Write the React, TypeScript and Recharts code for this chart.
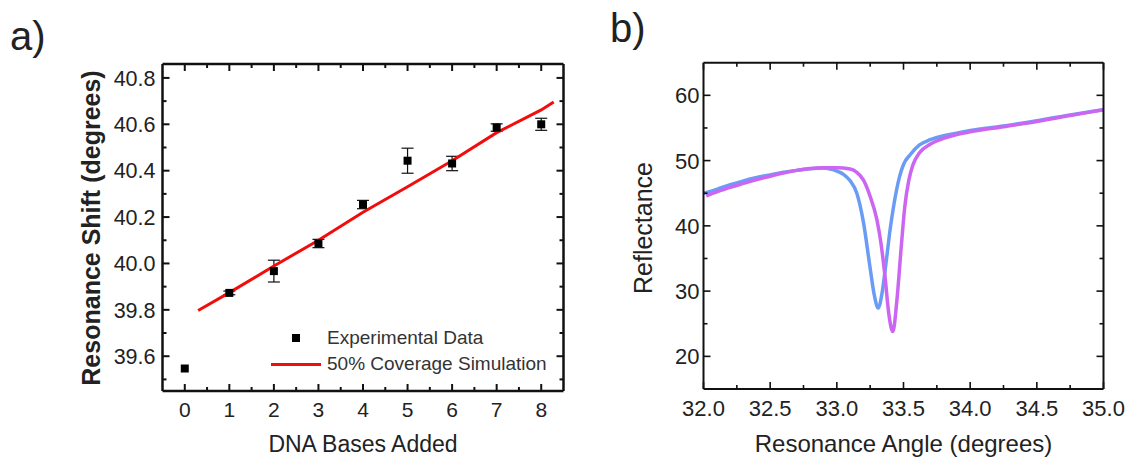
import React from "react";
import { ComposedChart, Line, Scatter, XAxis, YAxis, ErrorBar, Legend } from "recharts";

const FONT = '"Liberation Sans", Arial, sans-serif';

// panel a: resonance shift vs DNA bases
const basesAdded = [0, 1, 2, 3, 4, 5, 6, 7, 8];
const shiftMeasured = [39.547, 39.873, 39.967, 40.086, 40.254, 40.443, 40.431, 40.586, 40.6];
const shiftError = [0, 0.008, 0.047, 0.018, 0.018, 0.054, 0.031, 0.016, 0.026];
const simBases = [0.3, 1, 2, 3, 4, 5, 6, 7, 8, 8.28];
const simShift = [39.797, 39.874, 39.989, 40.1, 40.221, 40.331, 40.443, 40.564, 40.662, 40.696];
const aXMajor = [0, 1, 2, 3, 4, 5, 6, 7, 8];
const aXMinor = [0.5, 1.5, 2.5, 3.5, 4.5, 5.5, 6.5, 7.5];
const aYMajor = [39.6, 39.8, 40.0, 40.2, 40.4, 40.6, 40.8];
const aYMinor = [39.5, 39.7, 39.9, 40.1, 40.3, 40.5, 40.7];

// panel b: reflectance curves
const blueAngle = [32.0, 32.1, 32.2, 32.3, 32.4, 32.5, 32.6, 32.7, 32.8, 32.9, 32.95, 33.0, 33.05, 33.1, 33.15, 33.2, 33.25, 33.28, 33.31, 33.34, 33.37, 33.4, 33.43, 33.47, 33.5, 33.55, 33.62, 33.7, 33.8, 33.9, 34.0, 34.25, 34.5, 34.75, 35.0];
const blueRefl = [45.0, 45.6, 46.3, 46.9, 47.4, 47.8, 48.2, 48.5, 48.75, 48.85, 48.7, 48.4, 47.9, 46.9, 45.0, 40.5, 33.5, 29.5, 27.4, 29.8, 34.5, 39.5, 43.5, 47.5, 49.4, 50.9, 52.4, 53.2, 53.8, 54.2, 54.6, 55.3, 56.1, 57.0, 57.8];
const pinkAngle = [32.02, 32.1, 32.2, 32.3, 32.4, 32.5, 32.6, 32.7, 32.8, 32.9, 33.0, 33.1, 33.15, 33.2, 33.25, 33.3, 33.33, 33.36, 33.39, 33.42, 33.45, 33.48, 33.51, 33.54, 33.57, 33.62, 33.7, 33.8, 33.9, 34.0, 34.25, 34.5, 34.75, 35.0];
const pinkRefl = [44.6, 45.2, 45.9, 46.5, 47.1, 47.6, 48.1, 48.5, 48.8, 48.9, 48.9, 48.7, 48.2, 47.0, 44.5, 41.0, 37.5, 32.5, 26.5, 23.8, 28.5, 36.0, 43.0, 47.0, 49.3, 51.2, 52.5, 53.4, 54.0, 54.4, 55.2, 56.0, 56.9, 57.8];
const bXMajor = [32.0, 32.5, 33.0, 33.5, 34.0, 34.5, 35.0];
const bXMinor = [32.25, 32.75, 33.25, 33.75, 34.25, 34.75];
const bYMajor = [20, 30, 40, 50, 60];
const bYMinor = [25, 35, 45, 55];

const expData = basesAdded.map((x, i) => ({ x, y: shiftMeasured[i], err: shiftError[i] }));
const simData = simBases.map((x, i) => ({ x, y: simShift[i] }));
const blueData = blueAngle.map((x, i) => ({ x, y: blueRefl[i] }));
const pinkData = pinkAngle.map((x, i) => ({ x, y: pinkRefl[i] }));

const isIn = (list: number[], v: number) => list.some((m) => Math.abs(m - v) < 1e-6);

type Side = "bottom" | "top" | "left" | "right";

// inward ticks drawn by hand, labels only on major ticks
function makeTick(side: Side, major: number[], o: { big: number; small: number; sw: number; fs?: number; gap?: number; fmt?: (v: number) => string }) {
  return (props: any) => {
    const { x, y, payload } = props;
    const v = payload.value;
    const isMajor = isIn(major, v);
    const len = isMajor ? o.big : o.small;
    let line = null;
    let label = null;
    if (side === "bottom") {
      line = <line x1={x} y1={y} x2={x} y2={y - len} stroke="#111" strokeWidth={o.sw} />;
      if (isMajor && o.fmt) label = <text x={x} y={y + (o.gap || 0)} textAnchor="middle" fontSize={o.fs} fill="#222" fontFamily={FONT}>{o.fmt(v)}</text>;
    } else if (side === "top") {
      line = <line x1={x} y1={y} x2={x} y2={y + len} stroke="#111" strokeWidth={o.sw} />;
    } else if (side === "left") {
      line = <line x1={x} y1={y} x2={x + len} y2={y} stroke="#111" strokeWidth={o.sw} />;
      if (isMajor && o.fmt) label = <text x={x - (o.gap || 0)} y={y + (o.fs || 0) * 0.36} textAnchor="end" fontSize={o.fs} fill="#222" fontFamily={FONT}>{o.fmt(v)}</text>;
    } else {
      line = <line x1={x} y1={y} x2={x - len} y2={y} stroke="#111" strokeWidth={o.sw} />;
    }
    return <g>{line}{label}</g>;
  };
}

const LegendBox = () => (
  <div style={{ fontFamily: FONT, fontSize: 19, color: "#333" }}>
    <div style={{ display: "flex", alignItems: "center", height: 26 }}>
      <div style={{ width: 52, display: "flex", justifyContent: "center" }}>
        <div style={{ width: 8, height: 8, background: "#000" }} />
      </div>
      <span style={{ marginLeft: 5 }}>Experimental Data</span>
    </div>
    <div style={{ display: "flex", alignItems: "center", height: 26 }}>
      <div style={{ width: 52, display: "flex", justifyContent: "center" }}>
        <div style={{ width: 50, height: 3, background: "#f20d0d" }} />
      </div>
      <span style={{ marginLeft: 5 }}>50% Coverage Simulation</span>
    </div>
  </div>
);

const Square = (p: any) => <rect x={p.cx - 4} y={p.cy - 4} width={8} height={8} fill="#000" />;

const title = (text: string, cx: number, cy: number, fs: number, rot: boolean, bold = false) => (
  <div
    style={{
      position: "absolute",
      left: cx,
      top: cy,
      transform: `translate(-50%, -50%)${rot ? " rotate(-90deg)" : ""}`,
      whiteSpace: "nowrap",
      fontFamily: FONT,
      fontSize: fs,
      lineHeight: 1,
      fontWeight: bold ? "bold" : "normal",
      color: "#222",
    }}
  >
    {text}
  </div>
);

const frame = { stroke: "#111", strokeWidth: 2.5 };
const frameB = { stroke: "#111", strokeWidth: 2 };

export default function App() {
  const aAll = [...aXMajor, ...aXMinor];
  const aYAll = [...aYMajor, ...aYMinor];
  const bAll = [...bXMajor, ...bXMinor];
  const bYAll = [...bYMajor, ...bYMinor];
  return (
    <div style={{ position: "absolute", left: 0, top: 0, width: 1135, height: 457, background: "#fff", overflow: "hidden" }}>
      <div style={{ position: "absolute", left: 10, top: 16, fontFamily: FONT, fontSize: 40, lineHeight: 1, color: "#222" }}>a)</div>
      <div style={{ position: "absolute", left: 610, top: 8, fontFamily: FONT, fontSize: 40, lineHeight: 1, color: "#222" }}>b)</div>

      <div style={{ position: "absolute", left: 0, top: 0 }}>
        <ComposedChart width={580} height={457} margin={{ top: 62, right: 14.5, bottom: 26, left: 102.5 }}>
          <XAxis xAxisId="b" type="number" dataKey="x" domain={[-0.5, 8.5]} ticks={aAll} interval={0} allowDataOverflow
            tickLine={false} tickSize={0} tickMargin={0} height={40} axisLine={frame}
            tick={makeTick("bottom", aXMajor, { big: 7, small: 4, sw: 2, fs: 21, gap: 26, fmt: (v) => String(v) })} />
          <XAxis xAxisId="t" orientation="top" type="number" dataKey="x" domain={[-0.5, 8.5]} ticks={aAll} interval={0} allowDataOverflow
            tickLine={false} tickSize={0} tickMargin={0} height={2} axisLine={frame}
            tick={makeTick("top", aXMajor, { big: 7, small: 4, sw: 2 })} />
          <YAxis yAxisId="l" type="number" dataKey="y" domain={[39.45, 40.86]} ticks={aYAll} interval={0} allowDataOverflow
            tickLine={false} tickSize={0} tickMargin={0} width={60} axisLine={frame}
            tick={makeTick("left", aYMajor, { big: 7, small: 4, sw: 2, fs: 21.5, gap: 7, fmt: (v) => v.toFixed(1) })} />
          <YAxis yAxisId="r" orientation="right" type="number" dataKey="y" domain={[39.45, 40.86]} ticks={aYAll} interval={0} allowDataOverflow
            tickLine={false} tickSize={0} tickMargin={0} width={2} axisLine={frame}
            tick={makeTick("right", aYMajor, { big: 7, small: 4, sw: 2 })} />
          <Scatter name="Experimental Data" xAxisId="b" yAxisId="l" data={expData} dataKey="y" shape={Square} legendType="square" isAnimationActive={false}>
            <ErrorBar dataKey="err" direction="y" width={6} stroke="#111" strokeWidth={1.2} />
          </Scatter>
          <Line name="50% Coverage Simulation" xAxisId="b" yAxisId="l" data={simData} dataKey="y" type="linear" stroke="#f20d0d" strokeWidth={3}
            dot={false} activeDot={false} legendType="line" isAnimationActive={false} />
          <Legend layout="vertical" align="center" verticalAlign="middle" content={() => <LegendBox />}
            wrapperStyle={{ left: 270, top: 325, width: "auto", height: "auto" }} />
        </ComposedChart>
      </div>

      <div style={{ position: "absolute", left: 580, top: 0 }}>
        <ComposedChart width={555} height={457} margin={{ top: 60.7, right: 29.5, bottom: 28, left: 63.5 }}>
          <XAxis xAxisId="b" type="number" dataKey="x" domain={[32, 35]} ticks={bAll} interval={0} allowDataOverflow
            tickLine={false} tickSize={0} tickMargin={0} height={40} axisLine={frameB}
            tick={makeTick("bottom", bXMajor, { big: 7, small: 4, sw: 1.6, fs: 22, gap: 27, fmt: (v) => v.toFixed(1) })} />
          <XAxis xAxisId="t" orientation="top" type="number" dataKey="x" domain={[32, 35]} ticks={bAll} interval={0} allowDataOverflow
            tickLine={false} tickSize={0} tickMargin={0} height={2} axisLine={frameB}
            tick={makeTick("top", bXMajor, { big: 7, small: 4, sw: 1.6 })} />
          <YAxis yAxisId="l" type="number" dataKey="y" domain={[15, 65]} ticks={bYAll} interval={0} allowDataOverflow
            tickLine={false} tickSize={0} tickMargin={0} width={60} axisLine={frameB}
            tick={makeTick("left", bYMajor, { big: 7, small: 4, sw: 1.6, fs: 22, gap: 4, fmt: (v) => String(v) })} />
          <YAxis yAxisId="r" orientation="right" type="number" dataKey="y" domain={[15, 65]} ticks={bYAll} interval={0} allowDataOverflow
            tickLine={false} tickSize={0} tickMargin={0} width={2} axisLine={frameB}
            tick={makeTick("right", bYMajor, { big: 7, small: 4, sw: 1.6 })} />
          <Line xAxisId="b" yAxisId="l" data={blueData} dataKey="y" type="monotone" stroke="#6a9cf5" strokeWidth={3.5}
            dot={false} activeDot={false} isAnimationActive={false} />
          <Line xAxisId="b" yAxisId="l" data={pinkData} dataKey="y" type="monotone" stroke="#cc66f2" strokeWidth={3.5}
            dot={false} activeDot={false} isAnimationActive={false} />
        </ComposedChart>
      </div>

      {title("Resonance Shift (degrees)", 91, 227.5, 25, true, true)}
      {title("DNA Bases Added", 363, 444, 23, false)}
      {title("Reflectance", 642.5, 227.5, 25, true)}
      {title("Resonance Angle (degrees)", 903.5, 444, 24, false)}
    </div>
  );
}
